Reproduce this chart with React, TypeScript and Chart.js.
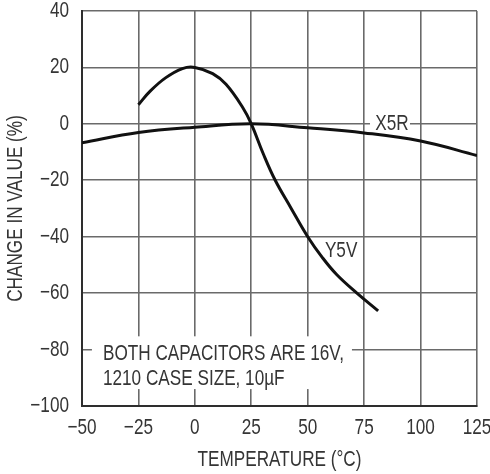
import React, { useEffect, useRef } from "react";
import { Chart, registerables } from "chart.js";

Chart.register(...registerables);

// Temperature (°C) / change in capacitance (%) pairs for each dielectric
const x5rTemps = [-50, -25, 0, 25, 50, 75, 100, 125];
const x5rChange = [-6.7, -3.1, -1.2, 0, -1.4, -3.2, -6.1, -11.2];

const y5vTemps = [-25, -19.8, -13, -5.5, 0, 7.9, 13.8, 21.2, 25, 30.3, 35.6, 42.5, 50, 56.5, 62.8, 71.8, 81.2];
const y5vChange = [6.8, 11.6, 16.3, 19.6, 20, 17.8, 14, 5.8, 0, -10.6, -20, -29.7, -40, -47.4, -53.4, -60, -66.3];

const xTicks = [-50, -25, 0, 25, 50, 75, 100, 125];
const yTicks = [-100, -80, -60, -40, -20, 0, 20, 40];

const noteLines = ["BOTH CAPACITORS ARE 16V,", "1210 CASE SIZE, 10µF"];

const FONT = '"Liberation Sans", Arial, sans-serif';
const FONT_SIZE = 22;
const SQUEEZE = 0.78; // condensed lettering
const TEXT = "#353535";

const fmt = (v: number) => (v < 0 ? "\u2212" + Math.abs(v) : String(v));

// draws condensed text anchored at (x, y)
function narrowText(ctx: CanvasRenderingContext2D, text: string, x: number, y: number, align: CanvasTextAlign) {
  ctx.save();
  ctx.translate(x, y);
  ctx.scale(SQUEEZE, 1);
  ctx.textAlign = align;
  ctx.fillText(text, 0, 0);
  ctx.restore();
}

const labelsPlugin = {
  id: "curveLabels",
  beforeDatasetsDraw(chart: any) {
    const { ctx, scales } = chart;
    const xs = scales.x;
    const ys = scales.y;
    ctx.save();
    ctx.fillStyle = "#ffffff";
    // gap in the 0% grid line behind the X5R tag
    const x0 = xs.getPixelForValue(77.6);
    const x1 = xs.getPixelForValue(95.3);
    const yc = ys.getPixelForValue(0);
    ctx.fillRect(x0, yc - 9, x1 - x0, 18);
    // clear panel behind the note
    const nx0 = xs.getPixelForValue(-45.6);
    const nx1 = xs.getPixelForValue(69.6);
    const ny0 = ys.getPixelForValue(-75.3);
    const ny1 = ys.getPixelForValue(-94);
    ctx.fillRect(nx0, ny0, nx1 - nx0, ny1 - ny0);
    ctx.restore();
  },
  afterDatasetsDraw(chart: any) {
    const { ctx, scales, chartArea } = chart;
    const xs = scales.x;
    const ys = scales.y;
    ctx.save();
    ctx.fillStyle = TEXT;
    ctx.font = `${FONT_SIZE}px ${FONT}`;
    ctx.textBaseline = "middle";

    // tick labels
    for (const v of xTicks) {
      narrowText(ctx, fmt(v), xs.getPixelForValue(v), 428, "center");
    }
    for (const v of yTicks) {
      narrowText(ctx, fmt(v), chartArea.left - 13, ys.getPixelForValue(v), "right");
    }

    narrowText(ctx, "X5R", xs.getPixelForValue(87.3), ys.getPixelForValue(0), "center");
    narrowText(ctx, "Y5V", xs.getPixelForValue(64.8), ys.getPixelForValue(-45), "center");

    narrowText(ctx, noteLines[0], xs.getPixelForValue(-40.7), ys.getPixelForValue(-81.4), "left");
    narrowText(ctx, noteLines[1], xs.getPixelForValue(-40.7), ys.getPixelForValue(-90.3), "left");

    // axis titles
    narrowText(ctx, "TEMPERATURE (°C)", (chartArea.left + chartArea.right) / 2, 460, "center");
    ctx.translate(16, (chartArea.top + chartArea.bottom) / 2);
    ctx.rotate(-Math.PI / 2);
    narrowText(ctx, "CHANGE IN VALUE (%)", 0, 0, "center");
    ctx.restore();
  },
};

export default function App() {
  const canvasRef = useRef<HTMLCanvasElement | null>(null);

  useEffect(() => {
    const canvas = canvasRef.current;
    if (!canvas) return;

    const toPoints = (xs: number[], ys: number[]) => xs.map((x, i) => ({ x, y: ys[i] }));

    const chart = new Chart(canvas, {
      type: "line",
      data: {
        datasets: [
          {
            label: "X5R",
            data: toPoints(x5rTemps, x5rChange),
            borderColor: "#111111",
            borderWidth: 3,
            pointRadius: 0,
            tension: 0.4,
            fill: false,
          },
          {
            label: "Y5V",
            data: toPoints(y5vTemps, y5vChange),
            borderColor: "#111111",
            borderWidth: 3,
            pointRadius: 0,
            tension: 0.4,
            fill: false,
          },
        ],
      },
      options: {
        animation: false,
        responsive: false,
        maintainAspectRatio: false,
        layout: { padding: { top: 11, right: 13, left: 0, bottom: 0 } },
        plugins: {
          legend: { display: false },
          tooltip: { enabled: false },
        },
        scales: {
          x: {
            type: "linear",
            min: xTicks[0],
            max: xTicks[xTicks.length - 1],
            afterBuildTicks: (scale: any) => {
              scale.ticks = xTicks.map((v) => ({ value: v }));
            },
            afterFit: (scale: any) => {
              scale.height = 68;
              scale.paddingLeft = 0;
              scale.paddingRight = 0;
            },
            ticks: { display: false, autoSkip: false },
            grid: { color: "#6a6a6a", lineWidth: 1.6, drawTicks: false },
            border: { color: "#2e2e2e", width: 2 },
          },
          y: {
            type: "linear",
            min: yTicks[0],
            max: yTicks[yTicks.length - 1],
            afterBuildTicks: (scale: any) => {
              scale.ticks = yTicks.map((v) => ({ value: v }));
            },
            afterFit: (scale: any) => {
              scale.width = 82;
              scale.paddingTop = 0;
              scale.paddingBottom = 0;
            },
            ticks: { display: false, autoSkip: false },
            grid: { color: "#6a6a6a", lineWidth: 1.6, drawTicks: false },
            border: { color: "#2e2e2e", width: 2 },
          },
        },
      },
      plugins: [labelsPlugin],
    } as any);

    return () => chart.destroy();
  }, []);

  return (
    <div style={{ position: "absolute", left: 0, top: 0, width: 490, height: 474, background: "#fff" }}>
      <canvas ref={canvasRef} width={490} height={474} />
    </div>
  );
}
